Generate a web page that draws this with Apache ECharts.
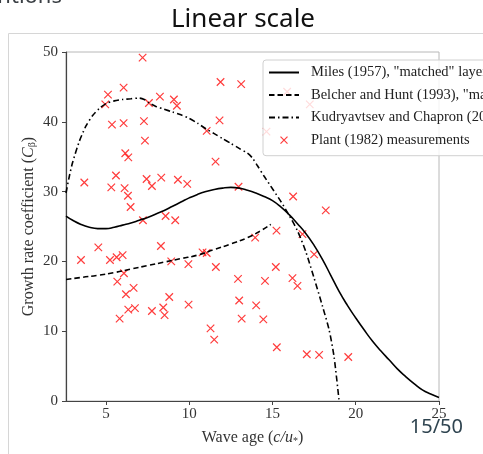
<!DOCTYPE html>
<html>
<head>
<meta charset="utf-8">
<script src="https://cdn.jsdelivr.net/npm/echarts@6/dist/echarts.min.js"></script>
<style>html,body{margin:0;padding:0;background:#fff;}#c{width:483px;height:454px;}</style>
</head>
<body>
<div id="c"></div>
<script>
// ---- data ----
const xTicks = [5, 10, 15, 20, 25];
const yTicks = [0, 10, 20, 30, 40, 50];

const milesX = [2.6,3.0,3.5,4.0,4.5,5.0,5.5,6.0,6.5,7.0,7.5,8.0,8.5,9.0,9.5,10.0,10.5,11.0,11.5,12.0,12.5,13.0,13.5,14.0,14.5,15.0,15.5,16.0,16.5,17.0,17.5,18.0,18.5,19.0,19.5,20.0,20.5,21.0,21.5,22.0,22.5,23.0,23.5,24.0,24.5,25.0];
const milesY = [26.5,25.9,25.3,24.9,24.7,24.7,24.9,25.2,25.5,25.9,26.3,26.8,27.3,27.9,28.5,29.1,29.6,30.0,30.3,30.5,30.6,30.5,30.2,29.8,29.3,28.7,27.8,26.7,25.4,24.0,22.3,20.3,18.0,15.7,13.7,11.9,10.2,8.6,7.2,5.9,4.6,3.5,2.5,1.6,1.0,0.5];

const belcherX = [2.6,3.5,4.5,5.5,6.5,7.5,8.5,9.5,10.5,11.5,12.5,13.5,14.3,14.9];
const belcherY = [17.4,17.7,18.0,18.4,18.9,19.4,19.9,20.4,20.9,21.7,22.5,23.4,24.4,25.3];

const kudX = [2.6,2.8,3.0,3.4,3.8,4.2,4.6,5.0,5.5,6.0,6.5,7.0,7.3,7.6,8.0,8.5,9.0,9.5,10.0,10.5,11.0,11.5,12.0,12.5,13.0,13.5,13.8,14.1,14.5,15.0,15.5,16.0,16.5,17.0,17.5,18.0,18.4,18.7,19.0];
const kudY = [29.8,32.2,34.2,37.2,39.4,40.9,41.9,42.6,43.0,43.2,43.3,43.4,43.2,42.7,42.2,41.8,41.4,41.0,40.5,39.8,39.0,38.3,37.6,36.9,36.2,35.5,34.8,33.7,32.2,30.4,28.6,26.6,24.4,21.4,17.6,13.6,10.2,6.3,0.0];

const plantX = [7.2,6.06,5.12,4.96,8.24,9.08,9.26,7.58,5.36,6.06,7.28,7.34,6.16,6.34,5.6,3.7,5.32,6.12,6.32,6.48,7.44,7.76,8.32,9.32,9.88,7.22,8.58,9.16,11.88,13.12,11.82,11.05,11.58,12.96,16.24,15.88,14.64,17.24,18.2,15.24,13.96,16.8,17.5,4.54,3.5,5.24,5.64,6.0,8.3,8.92,9.95,6.08,5.68,6.2,6.66,8.8,6.34,6.74,7.76,8.44,8.52,5.82,9.96,10.8,11.05,11.6,12.93,15.2,14.55,16.2,16.5,13.0,14.02,13.15,14.45,11.28,11.5,15.26,17.06,17.8,19.55];
const plantY = [49.2,44.9,43.9,42.5,43.6,43.2,42.3,42.7,39.6,39.8,40.1,37.3,35.5,34.9,32.3,31.3,30.6,30.5,29.4,27.8,31.8,30.8,32.0,31.7,31.1,25.9,26.5,25.9,45.7,45.4,40.2,38.7,34.3,30.7,29.3,44.3,38.6,42.5,27.3,24.4,23.4,23.9,21.0,22.0,20.2,20.2,20.6,20.9,22.2,20.0,19.6,18.3,17.1,15.3,16.2,14.9,13.1,13.3,12.9,13.4,12.3,11.8,13.8,21.3,21.2,19.2,17.5,19.2,17.2,17.6,16.5,14.4,13.7,11.8,11.7,10.4,8.8,7.7,6.7,6.6,6.3];

const seriesNames = [
  'Miles (1957), "matched" layer',
  'Belcher and Hunt (1993), "matched" layer',
  'Kudryavtsev and Chapron (2016)',
  'Plant (1982) measurements'
];

const zip = (a, b) => a.map((v, i) => [v, b[i]]);
const serif = '"Liberation Serif", "DejaVu Serif", serif';
const xMark = 'path://M0,0L10,10M10,0L0,10';
const xMarkLegend = 'path://M0,0L0.01,0M3.5,3.5L10.5,10.5M10.5,3.5L3.5,10.5M14,14L13.99,14';
const hiddenSym = {color: 'rgba(0,0,0,0)', borderWidth: 0, opacity: 0};

const chart = echarts.init(document.getElementById('c'), null, {renderer: 'canvas'});
chart.setOption({
  animation: false,
  backgroundColor: '#fff',
  grid: {left: 66, top: 52, right: 44, bottom: 53, show: true, borderColor: '#b8b8b8', borderWidth: 1, backgroundColor: 'transparent'},
  xAxis: {
    type: 'value', min: 2.6, max: 25,
    name: '{n|Wave age (}{i|c/u}{sub|*}{n|)}',
    nameLocation: 'middle', nameGap: 29, nameMoveOverlap: false,
    nameTextStyle: {
      fontFamily: serif, fontSize: 16, color: '#333',
      rich: {
        n: {fontFamily: serif, fontSize: 16, color: '#333'},
        i: {fontFamily: serif, fontSize: 16, fontStyle: 'italic', color: '#333'},
        sub: {fontFamily: serif, fontSize: 10, color: '#333', verticalAlign: 'bottom', padding: [6, 0, 0, 0]}
      }
    },
    splitLine: {show: false},
    axisLine: {onZero: false, lineStyle: {color: '#444', width: 1.2}},
    axisTick: {show: true, inside: false, length: 4, customValues: xTicks, lineStyle: {color: '#444'}},
    axisLabel: {customValues: xTicks, margin: 6, fontFamily: serif, fontSize: 15, color: '#333'}
  },
  yAxis: {
    type: 'value', min: 0, max: 50, interval: 10,
    name: '{n|Growth rate coefficient (}{i|C}{sub|β}{n|)}',
    nameLocation: 'middle', nameGap: 29, nameMoveOverlap: false,
    nameTextStyle: {
      fontFamily: serif, fontSize: 16, color: '#333',
      rich: {
        n: {fontFamily: serif, fontSize: 16, color: '#333'},
        i: {fontFamily: serif, fontSize: 16, fontStyle: 'italic', color: '#333'},
        sub: {fontFamily: serif, fontSize: 10, color: '#333', verticalAlign: 'bottom', padding: [6, 0, 0, 0]}
      }
    },
    splitLine: {show: false},
    axisLine: {show: true, onZero: false, lineStyle: {color: '#444', width: 1.2}},
    axisTick: {show: true, inside: false, length: 4, lineStyle: {color: '#444'}},
    axisLabel: {margin: 8, fontFamily: serif, fontSize: 15, color: '#333'}
  },
  legend: {
    orient: 'vertical', left: 263, top: 60,
    padding: [5, 6, 8, 5],
    itemWidth: 30, itemHeight: 14, itemGap: 7.5,
    backgroundColor: 'rgba(255,255,255,0.82)',
    borderColor: '#d0d0d0', borderWidth: 1, borderRadius: 3,
    textStyle: {fontFamily: serif, fontSize: 14.5, color: '#222', padding: [0, 0, 0, 7]},
    data: [
      {name: seriesNames[0], itemStyle: hiddenSym},
      {name: seriesNames[1], itemStyle: hiddenSym},
      {name: seriesNames[2], itemStyle: hiddenSym},
      {name: seriesNames[3], icon: xMarkLegend, itemStyle: {color: 'rgba(0,0,0,0)', borderColor: '#ff1a1a', borderWidth: 1.2}}
    ]
  },
  graphic: [
    {type: 'rect', shape: {x: 8.5, y: 33.5, width: 600, height: 600}, style: {fill: 'none', stroke: '#d6d6d6', lineWidth: 1}, z: 0, silent: true},
    {type: 'text', x: 243, y: 33, style: {text: 'Linear scale', fontFamily: '"Noto Sans", "Open Sans", sans-serif', fontSize: 26, fill: '#111', textAlign: 'center', textVerticalAlign: 'bottom'}},
    {type: 'text', x: 62, y: 8, style: {text: 'Conventions', fontFamily: '"Noto Sans", "Open Sans", sans-serif', fontSize: 22, fill: '#3a3f44', textAlign: 'right', textVerticalAlign: 'bottom'}},
    {type: 'text', x: 463, y: 437, style: {text: '15/50', fontFamily: '"Noto Sans", "Open Sans", sans-serif', fontSize: 20, fill: '#2f4450', textAlign: 'right', textVerticalAlign: 'bottom'}, z: 100}
  ],
  series: [
    {
      name: seriesNames[0], type: 'line', data: zip(milesX, milesY), smooth: true,
      showSymbol: false, symbol: 'none',
      lineStyle: {color: '#000', width: 1.6, type: 'solid'}, itemStyle: {color: '#000'}, z: 3
    },
    {
      name: seriesNames[1], type: 'line', data: zip(belcherX, belcherY), smooth: true,
      showSymbol: false, symbol: 'none',
      lineStyle: {color: '#000', width: 1.6, type: [5.5, 3]}, itemStyle: {color: '#000'}, z: 3
    },
    {
      name: seriesNames[2], type: 'line', data: zip(kudX, kudY), smooth: 0.25,
      showSymbol: false, symbol: 'none',
      lineStyle: {color: '#000', width: 1.6, type: [6, 3, 1.5, 3]}, itemStyle: {color: '#000'}, z: 3
    },
    {
      name: seriesNames[3], type: 'scatter', data: zip(plantX, plantY),
      symbol: xMark, symbolSize: 7.5,
      itemStyle: {color: 'rgba(0,0,0,0)', borderColor: '#ff1a1a', borderWidth: 1.2, opacity: 0.85}, z: 2
    }
  ]
});
</script>
</body>
</html>
